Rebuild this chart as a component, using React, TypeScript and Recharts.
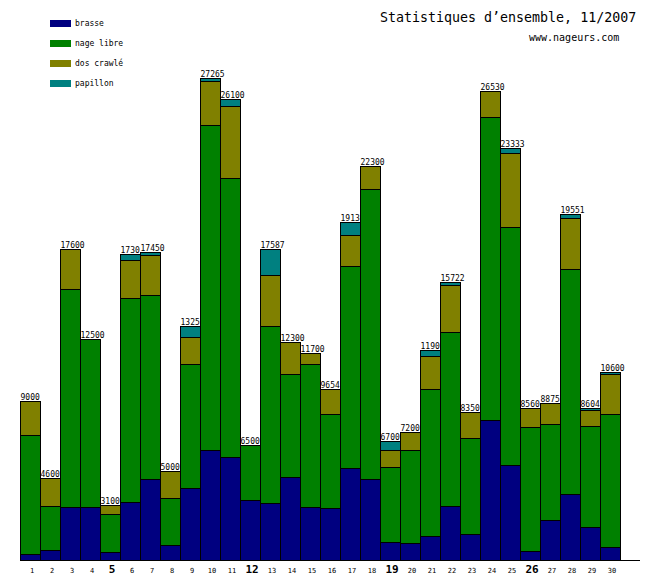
import React from "react";
import { BarChart, Bar, XAxis, YAxis, LabelList } from "recharts";

const days = [
  "1", "2", "3", "4", "5", "6", "7", "8", "9", "10",
  "11", "12", "13", "14", "15", "16", "17", "18", "19", "20",
  "21", "22", "23", "24", "25", "26", "27", "28", "29", "30",
];
const boldDays = ["5", "12", "19", "26"];

const brasse = [
  340, 550, 2950, 3000, 430, 3260, 4580, 830, 4060, 6180,
  5835, 3370, 3220, 4690, 3000, 2940, 5195, 4580, 1000, 940,
  1350, 3050, 1440, 7900, 5370, 490, 2230, 3730, 1860, 715,
];
const nageLibre = [
  6700, 2470, 12380, 9500, 2170, 11550, 10390, 2650, 7040, 18460,
  15805, 3130, 10000, 5820, 8080, 5300, 11443, 16400, 4230, 5240,
  8340, 9840, 5440, 17200, 13490, 7000, 5460, 12710, 5730, 7510,
];
const dosCrawle = [
  1960, 1580, 2270, 0, 500, 2150, 2310, 1520, 1490, 2500,
  4062, 0, 2880, 1790, 620, 1414, 1756, 1320, 960, 1020,
  1870, 2662, 1470, 1430, 4190, 1070, 1185, 2885, 884, 2262,
];
const papillon = [
  0, 0, 0, 0, 0, 340, 170, 0, 660, 125,
  398, 0, 1487, 0, 0, 0, 736, 0, 510, 0,
  340, 170, 0, 0, 283, 0, 0, 226, 130, 113,
];
const totals = [
  9000, 4600, 17600, 12500, 3100, 17300, 17450, 5000, 13250, 27265,
  26100, 6500, 17587, 12300, 11700, 9654, 19130, 22300, 6700, 7200,
  11900, 15722, 8350, 26530, 23333, 8560, 8875, 19551, 8604, 10600,
];

const series = [
  { key: "brasse", name: "brasse", color: "#000080" },
  { key: "nageLibre", name: "nage libre", color: "#008000" },
  { key: "dosCrawle", name: "dos crawlé", color: "#808000" },
  { key: "papillon", name: "papillon", color: "#008080" },
];

const data = days.map((d, i) => ({
  day: d,
  brasse: brasse[i],
  nageLibre: nageLibre[i],
  dosCrawle: dosCrawle[i],
  papillon: papillon[i],
  total: totals[i],
}));

const MONO = "'DejaVu Sans Mono', monospace";

function DayTick(props: any) {
  const { x, y, payload } = props;
  const bold = boldDays.includes(payload.value);
  return (
    <text
      x={x + 2}
      y={y + 12.5}
      textAnchor="middle"
      fontFamily={MONO}
      fontSize={bold ? 11 : 7}
      fontWeight={bold ? "bold" : "normal"}
      fill="#000"
    >
      {payload.value}
    </text>
  );
}

// label of the whole stack, drawn from the brasse layer, under the bars
function TotalLabel(props: any) {
  const vb = props.viewBox ?? props;
  const { x, y, height } = vb;
  const idx = props.index;
  if (!brasse[idx] || !height) return null;
  const unit = height / brasse[idx];
  const top = y + height - props.value * unit;
  const txt = String(props.value);
  return (
    <g>
      <rect x={x} y={top - 9} width={txt.length * 4.85 + 1} height={9} fill="#fff" />
      <text x={x + 0.5} y={top - 1.5} fontFamily={MONO} fontSize={8} fill="#000">
        {txt}
      </text>
    </g>
  );
}

export default function App() {
  return (
    <div style={{ position: "absolute", left: 0, top: 0, width: 660, height: 580, background: "#fff" }}>
      <style>{"svg rect, svg line, svg path { shape-rendering: crispEdges; }"}</style>
      <BarChart
        width={660}
        height={580}
        data={data}
        margin={{ top: 20, right: 20, bottom: 0, left: 20 }}
        barCategoryGap={0}
        barGap={0}
      >
        <XAxis
          dataKey="day"
          height={20}
          tickLine={false}
          tickSize={0}
          tickMargin={0}
          axisLine={{ stroke: "#000" }}
          padding={{ left: 0, right: 20 }}
          interval={0}
          tick={<DayTick />}
        />
        <YAxis
          width={0}
          domain={[0, 30600]}
          tick={false}
          tickLine={false}
          axisLine={{ stroke: "#000" }}
        />
        {series.map((s, i) => (
          <Bar
            key={s.key}
            dataKey={s.key}
            name={s.name}
            stackId="a"
            fill={s.color}
            stroke="#000"
            strokeWidth={1}
            isAnimationActive={false}
          >
            {i === 0 && (
              <LabelList dataKey="total" content={<TotalLabel />} {...({ zIndex: 100 } as any)} />
            )}
          </Bar>
        ))}
      </BarChart>

      {series.map((s, i) => (
        <div
          key={s.key}
          style={{ position: "absolute", left: 50, top: 20 + i * 20, height: 7, display: "flex", alignItems: "center" }}
        >
          <div style={{ width: 21, height: 7, background: s.color }} />
          <span style={{ marginLeft: 4, fontFamily: MONO, fontSize: 8, lineHeight: "7px", color: "#000", whiteSpace: "pre" }}>
            {s.name}
          </span>
        </div>
      ))}

      <div
        style={{ position: "absolute", left: 380, top: 11, fontFamily: MONO, fontSize: 13.3, lineHeight: "13.3px", whiteSpace: "pre" }}
      >
        Statistiques d’ensemble, 11/2007
      </div>
      <div
        style={{ position: "absolute", left: 529, top: 32.5, fontFamily: MONO, fontSize: 10, lineHeight: "10px", whiteSpace: "pre" }}
      >
        www.nageurs.com
      </div>
    </div>
  );
}
